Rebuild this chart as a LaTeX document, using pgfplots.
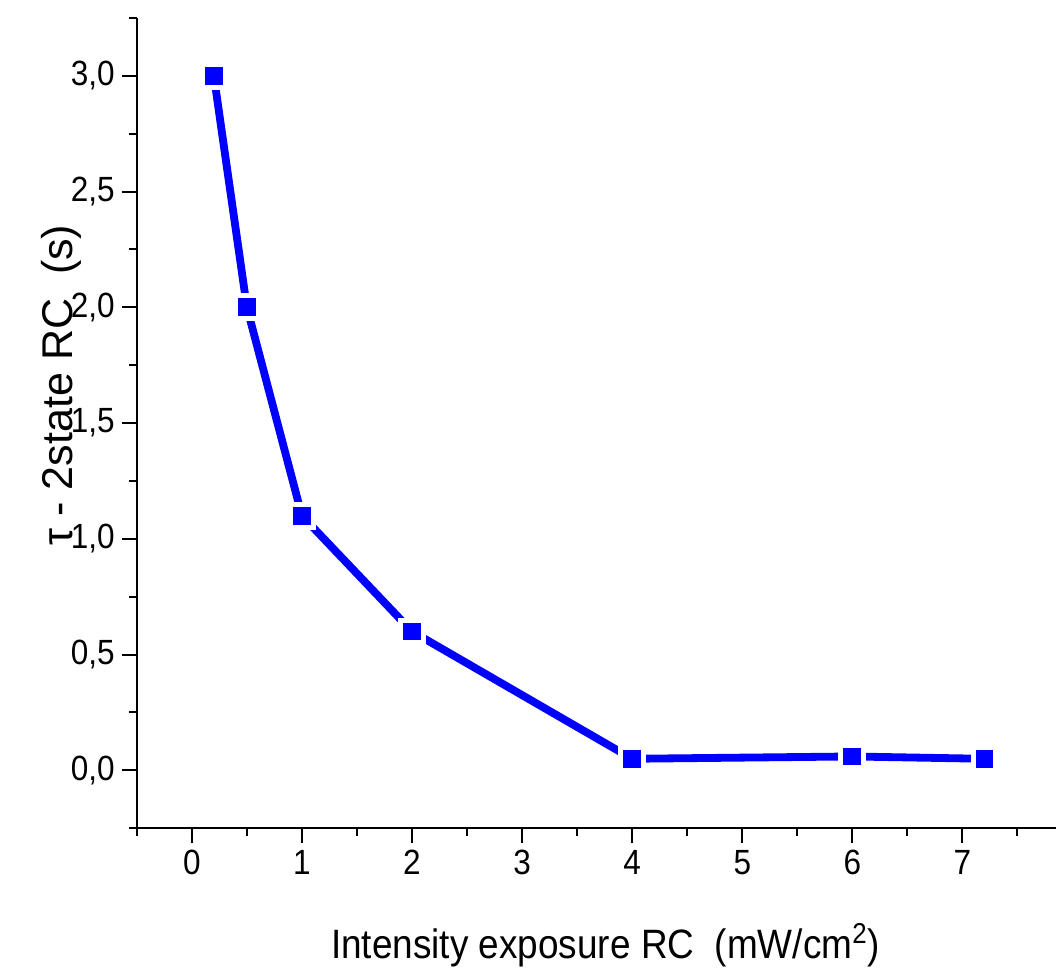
\documentclass[border=0pt]{standalone}
\usepackage{fontspec}
\setmainfont{Liberation Sans}[FakeStretch=0.9]
\newfontfamily\ylabfont{Liberation Sans}
\usepackage{pgfplots}
\usepackage{pgfplotstable}
\pgfplotsset{compat=1.18}

% intensity (mW/cm^2) vs tau (s)
\pgfplotstableread{
x    y
0.2  3.0
0.5  2.0
1    1.1
2    0.6
4    0.05
6    0.06
7.2  0.05
}\rcdata

\begin{document}
\begin{tikzpicture}
\begin{axis}[
  name=ax,
  scale only axis,
  width=459.25pt, height=404.8pt,
  xmin=-0.5, xmax=7.85,
  ymin=-0.25, ymax=3.25,
  axis lines*=left,
  axis line style={-, line width=1pt},
  xtick={0,...,7},
  ytick={0,0.5,...,3},
  minor xtick={-0.5,0.5,...,7.5},
  minor ytick={-0.25,0.25,...,3.25},
  tick align=outside,
  major tick length=7.5pt,
  minor tick length=4pt,
  every tick/.style={black, line width=1pt},
  /pgf/number format/assume math mode=true,
  tick label style={font=\fontsize{17.5}{20}\selectfont},
  yticklabel style={/pgf/number format/.cd, fixed, fixed zerofill, precision=1, use comma},
  xlabel={Intensity exposure RC\ \ (mW/cm\textsuperscript{2})},
  xlabel style={font=\fontsize{20.5}{24}\selectfont, at={(axis description cs:0.51,-0.1606)}, anchor=base},
  ylabel={τ - 2state RC\ \ (s)},
  ylabel style={font=\ylabfont\fontsize{21.5}{24}\selectfont, at={(axis description cs:-0.0697,0.547)}, anchor=base},
  clip=false,
]
\addplot[blue, line width=3.9pt, no markers] table {\rcdata};
\addplot[only marks, mark=square*, mark size=6.7pt, white, mark options={line width=0pt, draw=white, fill=white}] table {\rcdata};
\addplot[only marks, mark=square*, mark size=4.2pt, blue, mark options={line width=0pt, draw=blue, fill=blue}] table {\rcdata};
\end{axis}
\pgfresetboundingbox
\path[use as bounding box] ([shift={(-68.35pt,-70.5pt)}]ax.south west) rectangle ([shift={(0pt,9pt)}]ax.north east);
\end{tikzpicture}
\end{document}
